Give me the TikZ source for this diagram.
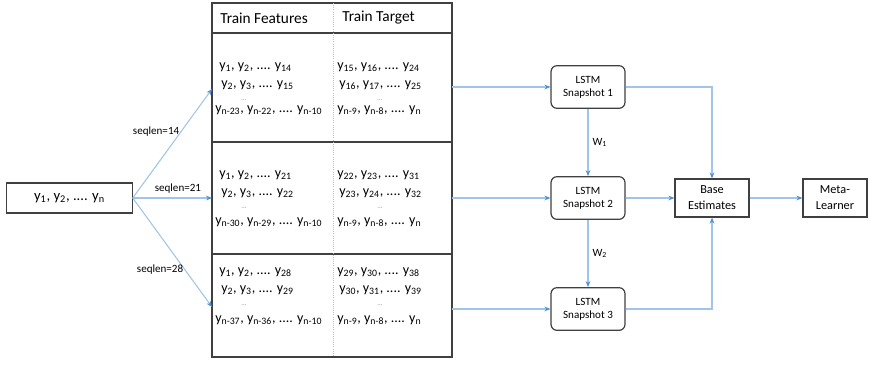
\documentclass[tikz,border=0pt]{standalone}
\usepackage{fontspec}
\setmainfont{Carlito}
\usetikzlibrary{arrows.meta}
\definecolor{linkblue}{RGB}{160,197,232}
\definecolor{tipblue}{RGB}{80,145,210}
\definecolor{edgegray}{RGB}{64,64,64}
\newcommand{\yy}[1]{y\textsubscript{#1}}
\tikzset{
  frame/.style={draw=edgegray, line width=0.9pt},
  divider/.style={draw=linkblue, densely dotted, line width=0.6pt},
  flow/.style={draw=linkblue, line width=0.8pt, -{Stealth[length=4.5pt,width=3.6pt,color=tipblue]}},
  plainbox/.style={frame, fill=white, align=center, inner sep=1pt},
  lstm/.style={plainbox, rounded corners=4.5pt, minimum width=55.5pt, minimum height=32pt, font=\fontsize{8.3}{9.8}\selectfont},
  head/.style={anchor=west, inner sep=0pt, font=\fontsize{11.5}{13}\selectfont},
  seqrow/.style={anchor=west, inner sep=0pt, font=\fontsize{10.5}{12}\selectfont},
  gap/.style={inner sep=0pt, text=gray, font=\fontsize{5}{6}\selectfont},
  lbl/.style={inner sep=1pt, font=\fontsize{8.3}{10}\selectfont}
}
\begin{document}
\begin{tikzpicture}[x=0.75pt,y=-0.75pt]
\useasboundingbox (0,0) rectangle (871,365);
\draw[frame] (212,3) rectangle (452,357);
\draw[frame] (212,33) -- (452,33) (212,142) -- (452,142) (212,254) -- (452,254);
\draw[divider] (333,3) -- (333,357);

\node[plainbox, minimum width=94pt, minimum height=22.5pt, font=\fontsize{11}{13}\selectfont] (series) at (69.5,198) {\yy{1}, \yy{2}, .... \yy{n}};

\node[head] (feat) at (220,18) {Train Features};
\node[head] (targ) at (342,18) {Train Target};

\node[seqrow] (f1a) at (219,67) {\yy{1}, \yy{2}, .... \yy{14}};
\node[seqrow] (f1b) at (221,85) {\yy{2}, \yy{3}, .... \yy{15}};
\node[gap] (f1g) at (244,100) {...};
\node[seqrow] (f1c) at (215,110) {\yy{n-23}, \yy{n-22}, .... \yy{n-10}};
\node[seqrow] (t1a) at (337,67) {\yy{15}, \yy{16}, .... \yy{24}};
\node[seqrow] (t1b) at (339,85) {\yy{16}, \yy{17}, .... \yy{25}};
\node[gap] (t1g) at (380,100) {...};
\node[seqrow] (t1c) at (337,110) {\yy{n-9}, \yy{n-8}, .... \yy{n}};

\node[seqrow] (f2a) at (219,175) {\yy{1}, \yy{2}, .... \yy{21}};
\node[seqrow] (f2b) at (221,193) {\yy{2}, \yy{3}, .... \yy{22}};
\node[gap] (f2g) at (244,208) {...};
\node[seqrow] (f2c) at (215,222) {\yy{n-30}, \yy{n-29}, .... \yy{n-10}};
\node[seqrow] (t2a) at (337,175) {\yy{22}, \yy{23}, .... \yy{31}};
\node[seqrow] (t2b) at (339,193) {\yy{23}, \yy{24}, .... \yy{32}};
\node[gap] (t2g) at (380,208) {...};
\node[seqrow] (t2c) at (337,222) {\yy{n-9}, \yy{n-8}, .... \yy{n}};

\node[seqrow] (f3a) at (219,272) {\yy{1}, \yy{2}, .... \yy{28}};
\node[seqrow] (f3b) at (221,290) {\yy{2}, \yy{3}, .... \yy{29}};
\node[gap] (f3g) at (244,305) {...};
\node[seqrow] (f3c) at (215,320) {\yy{n-37}, \yy{n-36}, .... \yy{n-10}};
\node[seqrow] (t3a) at (337,272) {\yy{29}, \yy{30}, .... \yy{38}};
\node[seqrow] (t3b) at (339,290) {\yy{30}, \yy{31}, .... \yy{39}};
\node[gap] (t3g) at (380,305) {...};
\node[seqrow] (t3c) at (337,320) {\yy{n-9}, \yy{n-8}, .... \yy{n}};

\coordinate (in1) at (212,89);
\coordinate (in2) at (212,198);
\coordinate (in3) at (212,307);
\coordinate (out1) at (452,87);
\coordinate (out2) at (452,198);
\coordinate (out3) at (452,309);

\node[lstm] (snap1) at (588,87) {LSTM\\Snapshot 1};
\node[lstm] (snap2) at (588,198) {LSTM\\Snapshot 2};
\node[lstm] (snap3) at (588,309) {LSTM\\Snapshot 3};
\node[plainbox, minimum width=55.5pt, minimum height=28.5pt, font=\fontsize{9.2}{12}\selectfont] (base) at (712,198) {Base\\Estimates};
\node[plainbox, minimum width=48pt, minimum height=28.5pt, font=\fontsize{9.2}{12}\selectfont] (meta) at (835,198) {Meta-\\Learner};

\begin{scope}[flow]
  \draw (series.east) -- node[lbl, pos=0.61, anchor=east] {seqlen=14} (in1);
  \draw (series.east) -- node[lbl, pos=0.57, above=2pt] {seqlen=21} (in2);
  \draw (series.east) -- node[lbl, pos=0.66, anchor=east] {seqlen=28} (in3);
  \draw (out1) -- (snap1);
  \draw (out2) -- (snap2);
  \draw (out3) -- (snap3);
  \draw (snap1) -- node[lbl, right=2pt] {W\textsubscript{1}} (snap2);
  \draw (snap2) -- node[lbl, right=2pt] {W\textsubscript{2}} (snap3);
  \draw (snap1.east) -| (base.north);
  \draw (snap2) -- (base);
  \draw (snap3.east) -| (base.south);
  \draw (base) -- (meta);
\end{scope}
\end{tikzpicture}
\end{document}
